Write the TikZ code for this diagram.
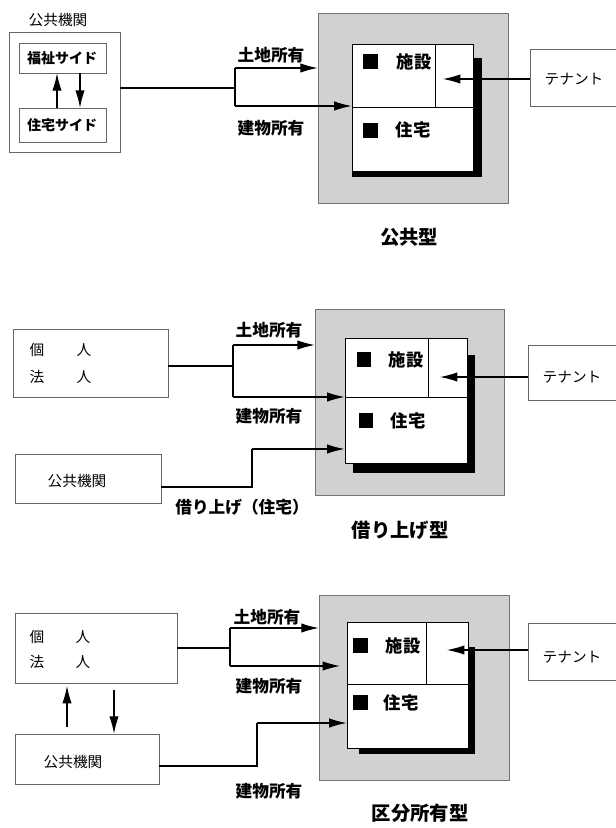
\documentclass[tikz,border=0pt]{standalone}
\usepackage{fontspec}
\newfontfamily\jp{Noto Sans CJK JP}
\usetikzlibrary{arrows.meta,fit}
\tikzset{
  box/.style={draw=black!60, line width=0.5pt, inner sep=0pt},
  shadebox/.style={draw=black!55, line width=0.5pt, fill=black!18, inner sep=0pt},
  frame/.style={draw=black, line width=0.7pt, fill=white, inner sep=0pt},
  sq/.style={fill=black, minimum size=11pt, inner sep=0pt},
  conn/.style={line width=0.8pt},
  arr/.style={conn, -{Latex[length=13pt,width=7pt]}},
  lbl/.style={font={\jp\bfseries\fontsize{12.5}{14}\selectfont}, inner sep=0pt},
  cell/.style={font={\jp\bfseries\fontsize{13}{15}\selectfont}, inner sep=0pt},
  txt/.style={font={\jp\fontsize{11}{13}\selectfont}, inner sep=0pt},
  side/.style={font={\jp\bfseries\fontsize{10.5}{12}\selectfont}, inner sep=0pt},
  ttl/.style={font={\jp\bfseries\fontsize{14.5}{16}\selectfont}, inner sep=0pt},
}
\begin{document}
\begin{tikzpicture}[x=0.75pt,y=-0.75pt]
\useasboundingbox (0,0) rectangle (615,828);
\fill[white] (0,0) rectangle (615,828);

% ================= Panel 1 =================
\node[txt] (pub1lbl) at (58,20) {公共機関};
\node[box, fit={(9,32) (120,152)}] (ob) {};
\node[box, fit={(19,43) (106,73)}] (fb) {};
\node[side] (fbt) at (62,58) {福祉サイド};
\node[box, fit={(19,108) (106,142)}] (jb) {};
\node[side] (jbt) at (62,125) {住宅サイド};
\coordinate (ua1) at (57,0);
\coordinate (da1) at (80,0);
\draw[arr] (jb.north -| ua1) -- (fb.south -| ua1);
\draw[arr] (fb.south -| da1) -- (jb.north -| da1);

\node[shadebox, fit={(318,13) (508,203)}] (sh1) {};
\fill (352,58) rectangle (482,177);
\node[frame, fit={(352,44) (473,171)}] (in1) {};
\draw[line width=0.7pt] (352,107) -- (473,107);
\draw[line width=0.7pt] (435,44) -- (435,107);
\node[sq] (q1a) at (370.5,61.5) {};
\node[cell] (c1a) at (414,62) {施設};
\node[sq] (q1b) at (370.5,130.5) {};
\node[cell] (c1b) at (413,130) {住宅};

\node[box, fit={(530,49) (622,106)}] (t1) {};
\node[txt] (t1t) at (574,79) {テナント};
\coordinate (tip1) at (443,79);
\draw[arr] (t1.west |- tip1) -- (tip1);

\coordinate (m1) at (235,88);
\coordinate (m1a) at (235,68);
\coordinate (m1b) at (235,106);
\draw[conn] (ob.east |- m1) -- (m1);
\draw[conn] (m1a) -- (m1b);
\draw[arr] (m1a) -- (sh1.west |- m1a);
\draw[arr] (m1b) -- (in1.west |- m1b);
\node[lbl] (l1a) at (271,55) {土地所有};
\node[lbl] (l1b) at (271,128) {建物所有};
\node[ttl] (ttl1) at (409,237) {公共型};

% ================= Panel 2 =================
\node[box, fit={(13,329) (168,397)}] (pb2) {};
\node[txt] at (37,350) {個};
\node[txt] at (84,350) {人};
\node[txt] at (37,377) {法};
\node[txt] at (84,377) {人};
\node[box, fit={(15,454) (161,503)}] (kb2) {};
\node[txt] (kb2t) at (77,481) {公共機関};

\node[shadebox, fit={(315,309) (504,495)}] (sh2) {};
\fill (353,355) rectangle (475,473);
\node[frame, fit={(345,338) (467,463)}] (in2) {};
\draw[line width=0.7pt] (345,397) -- (467,397);
\draw[line width=0.7pt] (428,338) -- (428,397);
\node[sq] (q2a) at (364,359.5) {};
\node[cell] (c2a) at (406,360) {施設};
\node[sq] (q2b) at (366,420.5) {};
\node[cell] (c2b) at (408,421) {住宅};

\node[box, fit={(528,345) (622,400)}] (t2) {};
\node[txt] (t2t) at (572,377) {テナント};
\coordinate (tip2) at (440,377);
\draw[arr] (t2.west |- tip2) -- (tip2);

\coordinate (m2) at (233,366);
\coordinate (m2a) at (233,345);
\coordinate (m2b) at (233,397);
\draw[conn] (pb2.east |- m2) -- (m2);
\draw[conn] (m2a) -- (m2b);
\draw[arr] (m2a) -- (sh2.west |- m2a);
\draw[arr] (m2b) -- (in2.west |- m2b);
\coordinate (k2a) at (252,487);
\coordinate (k2b) at (252,449);
\draw[conn] (kb2.east |- k2a) -- (k2a) -- (k2b);
\draw[arr] (k2b) -- (in2.west |- k2b);
\node[lbl] (l2a) at (269,330) {土地所有};
\node[lbl] (l2b) at (269,416) {建物所有};
\node[lbl] (l2c) at (242,507) {借り上げ（住宅）};
\node[ttl] (ttl2) at (400,530) {借り上げ型};

% ================= Panel 3 =================
\node[box, fit={(15,613) (177,683)}] (pb3) {};
\node[txt] at (37,637) {個};
\node[txt] at (83,637) {人};
\node[txt] at (37,662) {法};
\node[txt] at (83,662) {人};
\node[box, fit={(15,734) (159,784)}] (kb3) {};
\node[txt] (kb3t) at (73,762) {公共機関};
\coordinate (ua3) at (67,0);
\coordinate (da3) at (114,0);
\draw[arr, shorten <=5pt, shorten >=2pt] (kb3.north -| ua3) -- (pb3.south -| ua3);
\draw[arr, shorten <=5pt] (pb3.south -| da3) -- (kb3.north -| da3);

\node[shadebox, fit={(319,595) (509,780)}] (sh3) {};
\fill (359,647) rectangle (475,754);
\node[frame, fit={(347,622) (468,748)}] (in3) {};
\draw[line width=0.7pt] (347,684) -- (468,684);
\draw[line width=0.7pt] (426,622) -- (426,684);
\node[sq] (q3a) at (360.5,645.5) {};
\node[cell] (c3a) at (403,646) {施設};
\node[sq] (q3b) at (360.5,702.5) {};
\node[cell] (c3b) at (401,703) {住宅};

\node[box, fit={(528,623) (622,680)}] (t3) {};
\node[txt] (t3t) at (572,657) {テナント};
\coordinate (tip3) at (447,650);
\draw[arr] (t3.west |- tip3) -- (tip3);

\coordinate (m3) at (230,648);
\coordinate (m3a) at (230,628);
\coordinate (m3b) at (230,666);
\coordinate (tip3b) at (340,666);
\draw[conn] (pb3.east |- m3) -- (m3);
\draw[conn] (m3a) -- (m3b);
\draw[arr] (m3a) -- (sh3.west |- m3a);
\draw[arr] (m3b) -- (tip3b);
\coordinate (k3a) at (257,766);
\coordinate (k3b) at (257,723);
\draw[conn] (kb3.east |- k3a) -- (k3a) -- (k3b);
\draw[arr] (k3b) -- (in3.west |- k3b);
\node[lbl] (l3a) at (267,617) {土地所有};
\node[lbl] (l3b) at (269,686) {建物所有};
\node[lbl] (l3c) at (269,791) {建物所有};
\node[ttl] (ttl3) at (420,813) {区分所有型};
\end{tikzpicture}
\end{document}
